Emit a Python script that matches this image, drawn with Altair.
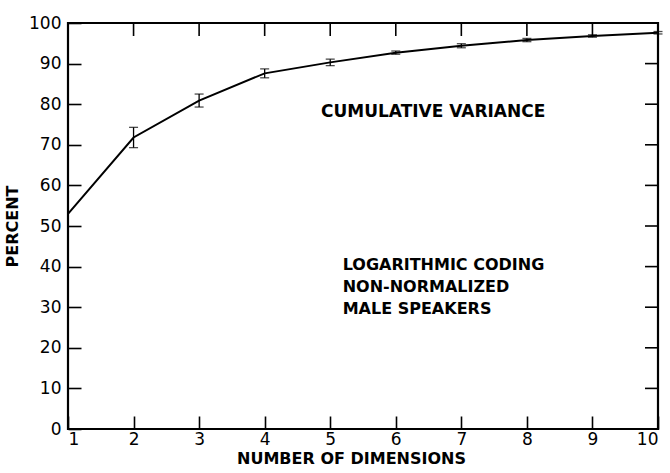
import altair as alt
import pandas as pd

dims = [1, 2, 3, 4, 5, 6, 7, 8, 9, 10]
percent = [53.0, 71.8, 80.9, 87.6, 90.3, 92.7, 94.4, 95.8, 96.8, 97.6]
err = [0.0, 2.5, 1.6, 1.1, 0.8, 0.4, 0.5, 0.4, 0.3, 0.3]

y_ticks = [10, 20, 30, 40, 50, 60, 70, 80, 90]
x_ticks = [2, 3, 4, 5, 6, 7, 8, 9]

notes = ["CUMULATIVE VARIANCE", "LOGARITHMIC CODING", "NON-NORMALIZED", "MALE SPEAKERS"]
note_x = [6.57, 5.19, 5.19, 5.19]
note_y = [78.1, 40.4, 35.0, 29.6]
note_align = ["center", "left", "left", "left"]

W, H = 590, 406
FONT = "DejaVu Sans"
TL = 13              # inward tick length, px
XU = TL * 9 / W      # tick length in x units
YU = TL * 100 / H    # tick length in y units

df = pd.DataFrame({"dims": dims, "pct": percent, "err": err})
df["lo"] = df["pct"] - df["err"]
df["hi"] = df["pct"] + df["err"]
eb = df[df["err"] > 0]

xs = alt.Scale(domain=[1, 10], nice=False, zero=False)
ys = alt.Scale(domain=[0, 100], nice=False)

# axes pulled inward by the tick length so their ticks point into the plot
x_axis = alt.Axis(values=dims, format="d", title="NUMBER OF DIMENSIONS",
                  offset=-TL, tickSize=TL, tickColor="black", tickWidth=1.6,
                  domain=False, grid=False, labelFontSize=17, labelPadding=2,
                  titleFontSize=16, titlePadding=3, labelFont=FONT, titleFont=FONT,
                  labelColor="black", titleColor="black", titleFontWeight="bold",
                  titleX=283)
y_axis = alt.Axis(values=[0, 10, 20, 30, 40, 50, 60, 70, 80, 90, 100], format="d",
                  title="PERCENT", offset=-TL, tickSize=TL, tickColor="black",
                  tickWidth=1.6, domain=False, grid=False,
                  labelFontSize=17, labelPadding=7, titleFontSize=16, titlePadding=8,
                  labelFont=FONT, titleFont=FONT, labelColor="black",
                  titleColor="black", titleFontWeight="bold")

line = alt.Chart(df).mark_line(color="black", strokeWidth=2).encode(
    x=alt.X("dims:Q", scale=xs, axis=x_axis),
    y=alt.Y("pct:Q", scale=ys, axis=y_axis),
)

bars = alt.Chart(eb).mark_rule(color="black", strokeWidth=1.3).encode(
    x=alt.X("dims:Q", scale=xs), y=alt.Y("lo:Q", scale=ys), y2="hi:Q"
)
caps_lo = alt.Chart(eb).mark_tick(color="black", size=9, thickness=1.3, orient="horizontal").encode(
    x=alt.X("dims:Q", scale=xs), y=alt.Y("lo:Q", scale=ys)
)
caps_hi = alt.Chart(eb).mark_tick(color="black", size=9, thickness=1.3, orient="horizontal").encode(
    x=alt.X("dims:Q", scale=xs), y=alt.Y("hi:Q", scale=ys)
)

# inward ticks on the right and top edges of the frame
one = pd.DataFrame({"d": [0]})
frame_ticks = []
for v in y_ticks:
    frame_ticks.append(alt.Chart(one).mark_rule(color="black", strokeWidth=1.6).encode(
        x=alt.datum(10.0 - XU), x2=alt.datum(10.0), y=alt.datum(v)))
for v in x_ticks:
    frame_ticks.append(alt.Chart(one).mark_rule(color="black", strokeWidth=1.6).encode(
        y=alt.datum(100.0 - YU), y2=alt.datum(100.0), x=alt.datum(v)))

ndf = pd.DataFrame({"t": notes, "x": note_x, "y": note_y, "a": note_align})
note_c = alt.Chart(ndf[ndf["a"] == "center"]).mark_text(
    font=FONT, fontSize=17, fontWeight="bold", color="black", align="center",
    baseline="middle").encode(
    x=alt.X("x:Q", scale=xs), y=alt.Y("y:Q", scale=ys), text="t:N")
note_l = alt.Chart(ndf[ndf["a"] == "left"]).mark_text(
    font=FONT, fontSize=16, fontWeight="bold", color="black", align="left",
    baseline="middle").encode(
    x=alt.X("x:Q", scale=xs), y=alt.Y("y:Q", scale=ys), text="t:N")

chart = alt.layer(line, bars, caps_lo, caps_hi, *frame_ticks,
                  note_c, note_l).properties(
    width=W, height=H,
    autosize=alt.AutoSizeParams(type="none"),
    padding={"left": 68, "top": 23, "right": 12, "bottom": 44},
    background="white",
).configure_view(stroke="black", strokeWidth=2.2)

chart.save("out.html", embed_options={"renderer": "svg", "actions": False})
